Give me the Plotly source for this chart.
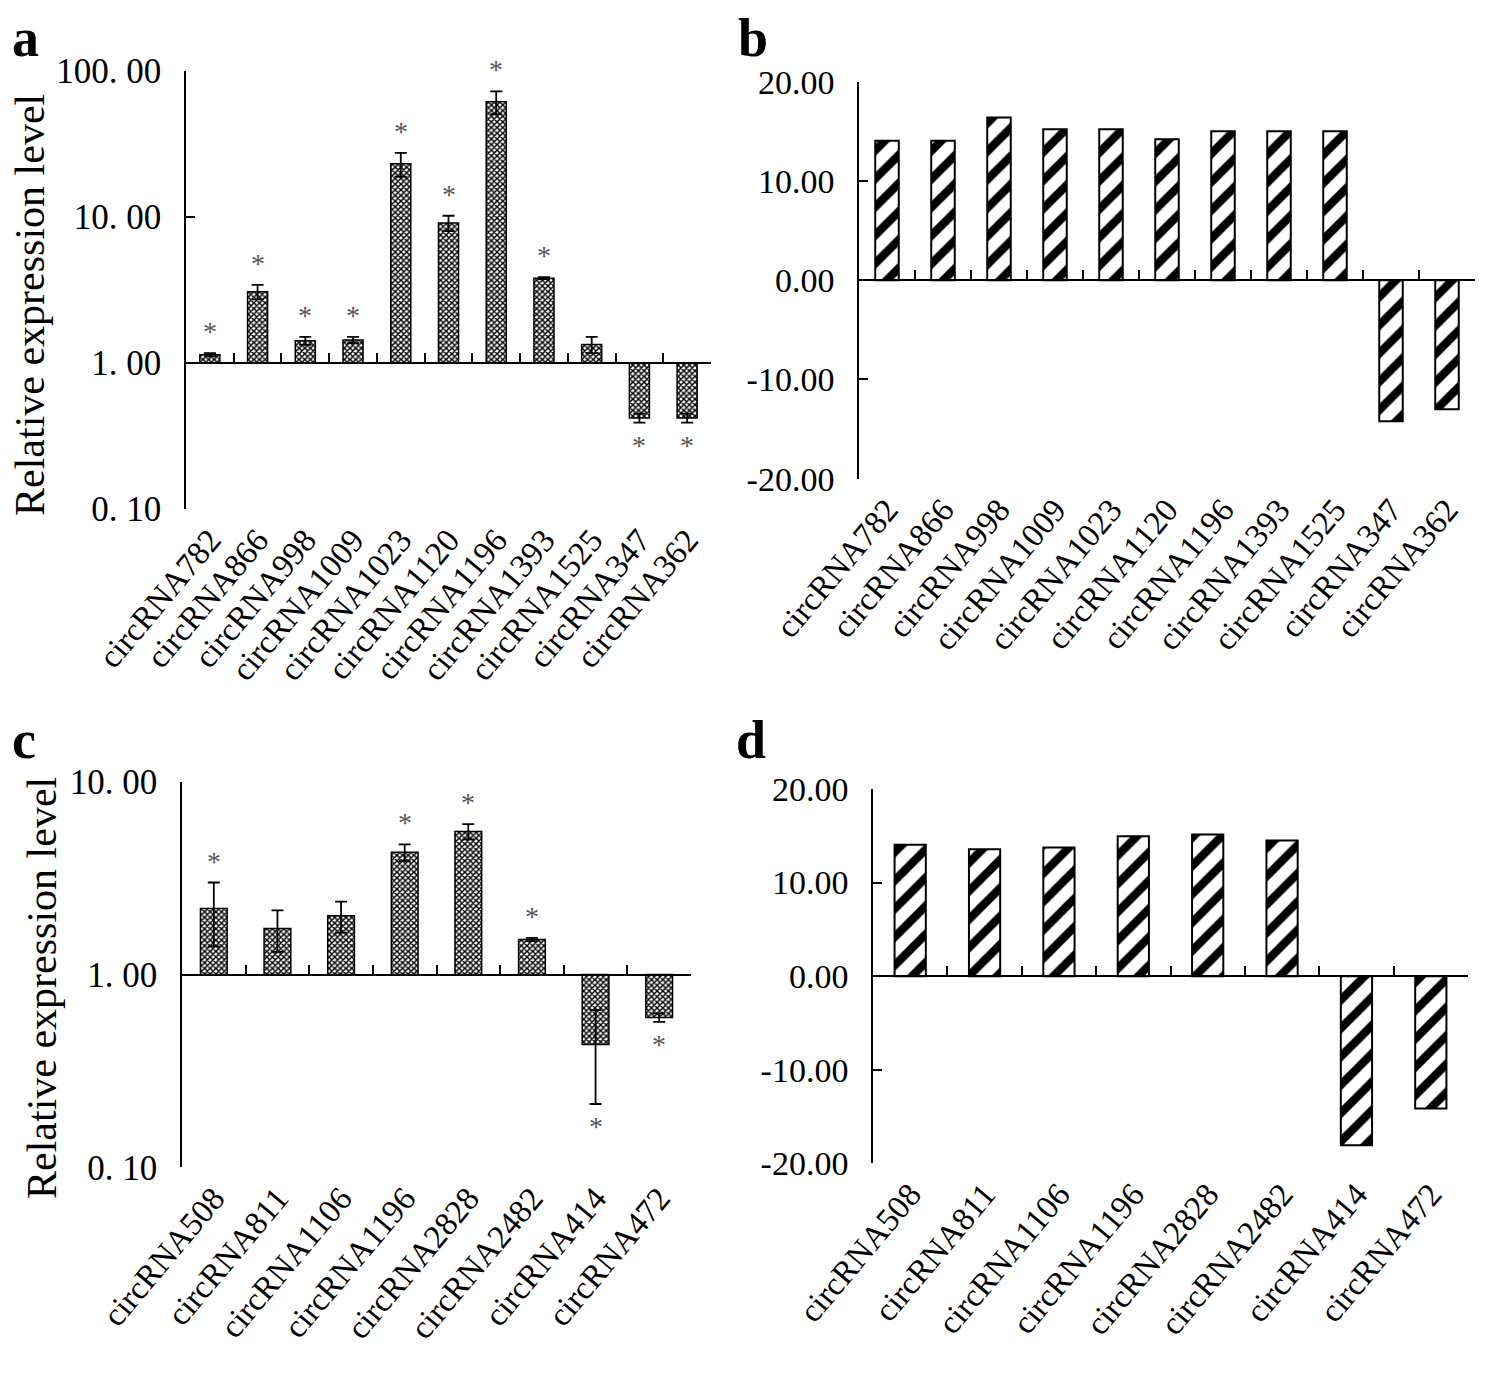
import numpy as np
import plotly.graph_objects as go

# ---------------- data ----------------
cats_a = ["circRNA782", "circRNA866", "circRNA998", "circRNA1009", "circRNA1023", "circRNA1120",
          "circRNA1196", "circRNA1393", "circRNA1525", "circRNA347", "circRNA362"]
vals_a = [1.14, 3.08, 1.42, 1.44, 23.2, 9.1, 61.6, 3.81, 1.34, 0.42, 0.42]
err_a = [0.03, 0.35, 0.09, 0.07, 4.3, 1.1, 11.0, 0.06, 0.17, 0.03, 0.03]
star_a = [True, True, True, True, True, True, True, True, False, True, True]

cats_b = cats_a
vals_b = [14.06, 14.06, 16.4, 15.2, 15.2, 14.2, 15.0, 15.0, 15.0, -14.2, -13.0]

cats_c = ["circRNA508", "circRNA811", "circRNA1106", "circRNA1196", "circRNA2828", "circRNA2482",
          "circRNA414", "circRNA472"]
vals_c = [2.2, 1.73, 2.02, 4.3, 5.52, 1.52, 0.433, 0.598]
err_c = [0.8, 0.42, 0.37, 0.43, 0.5, 0.03, 0.22, 0.03]
star_c = [True, False, False, True, True, True, True, True]

cats_d = cats_c
vals_d = [14.05, 13.55, 13.76, 14.94, 15.15, 14.5, -18.07, -14.15]

log_ticks = [0.1, 1, 10, 100]
log_ticktext = ["0. 10", "1. 00", "10. 00", "100. 00"]
lin_ticks = [-20, -10, 0, 10, 20]
lin_ticktext = ["-20.00", "-10.00", "0.00", "10.00", "20.00"]

# ---------------- layout geometry (pixels of the 1498x1391 canvas) ----------------
W, H = 1498, 1391
OFF = 8  # page body margin
def fx(px):
    return (px - OFF) / W
def fy(py):
    return 1 - (py - OFF) / H

panels = {
    "a": dict(x=(186, 711), y=(71, 509)),
    "b": dict(x=(859, 1475), y=(81.7, 478.7)),
    "c": dict(x=(182, 691), y=(781.7, 1167.3)),
    "d": dict(x=(873, 1468), y=(789, 1163.3)),
}

SERIF = "Liberation Serif"
fig = go.Figure()

dot_pattern = dict(shape="x", size=4, solidity=0.6, fgcolor="#000000", bgcolor="#ffffff", fgopacity=1)
hatch_pattern = dict(shape="/", size=20, solidity=0.42, fgcolor="#000000", bgcolor="#ffffff", fgopacity=1)

def add_panel(idx, key, cats, vals, err, log, pattern, line_w):
    xa = "x" if idx == 1 else f"x{idx}"
    ya = "y" if idx == 1 else f"y{idx}"
    base = 1 if log else 0
    n = len(cats)
    fig.add_trace(go.Bar(
        x=cats, y=[v - base for v in vals], base=[base] * n,
        width=0.42,
        marker=dict(color="#ffffff", pattern=pattern, line=dict(color="#000000", width=line_w)),
        error_y=dict(type="data", array=err, visible=err is not None, color="#000000", thickness=1.8, width=6),
        xaxis=xa, yaxis=ya, showlegend=False, hoverinfo="skip",
    ))
    # invisible trace for baseline overlay axis
    ov = 4 + idx
    fig.add_trace(go.Scatter(x=[0], y=[base if log else 0], mode="markers", marker=dict(opacity=0),
                             xaxis=f"x{ov}", yaxis=ya, showlegend=False, hoverinfo="skip"))
    p = panels[key]
    xd = [fx(p["x"][0]), fx(p["x"][1])]
    yd = [fy(p["y"][1]), fy(p["y"][0])]
    if log:
        rng = [np.log10(log_ticks[0]), np.log10(log_ticks[-1]) if key == "a" else 1]
        frac = (np.log10(base) - rng[0]) / (rng[1] - rng[0])
        yaxis = dict(type="log", range=rng, tickvals=log_ticks, ticktext=log_ticktext,
                     tickfont=dict(family=SERIF, size=35, color="#000"))
    else:
        rng = [lin_ticks[0], lin_ticks[-1]]
        frac = (0 - rng[0]) / (rng[1] - rng[0])
        yaxis = dict(type="linear", range=rng, tickvals=lin_ticks, ticktext=lin_ticktext,
                     tickfont=dict(family=SERIF, size=34, color="#000"))
    yaxis.update(domain=yd, anchor=xa, showline=True, linecolor="#000", linewidth=1.5,
                 ticks="inside", ticklen=9, tickwidth=1.5, tickcolor="#000",
                 showgrid=False, zeroline=False, ticklabelstandoff=16, automargin=False)
    xaxis = dict(domain=xd, anchor=ya, type="category", range=[-0.5, n - 0.5],
                 showline=False, ticks="", showgrid=False, zeroline=False,
                 tickangle=-50, tickfont=dict(family=SERIF, size=33, color="#000"),
                 ticklabelstandoff=4, automargin=False)
    ovaxis = dict(domain=xd, overlaying=xa, anchor="free", position=yd[0] + frac * (yd[1] - yd[0]),
                  type="linear", range=[-0.5, n - 0.5],
                  tickvals=[i + 0.5 for i in range(n)], showticklabels=False,
                  ticks="inside", ticklen=9, tickwidth=1.5, tickcolor="#000",
                  showline=True, linecolor="#000", linewidth=1.5, showgrid=False, zeroline=False,
                  automargin=False)
    fig.update_layout(**{
        ("xaxis" if idx == 1 else f"xaxis{idx}"): xaxis,
        ("yaxis" if idx == 1 else f"yaxis{idx}"): yaxis,
        f"xaxis{ov}": ovaxis,
    })
    return xa, ya

add_panel(1, "a", cats_a, vals_a, err_a, True, dot_pattern, 1.5)
add_panel(2, "b", cats_b, vals_b, None, False, hatch_pattern, 2)
add_panel(3, "c", cats_c, vals_c, err_c, True, dot_pattern, 1.5)
add_panel(4, "d", cats_d, vals_d, None, False, hatch_pattern, 2)

annotations = []
def stars(xa, ya, cats, vals, err, flags):
    for c, v, e, s in zip(cats, vals, err, flags):
        if not s:
            continue
        if v >= 1:
            annotations.append(dict(x=c, y=np.log10(v + e), xref=xa, yref=ya, text="*", showarrow=False,
                                    yanchor="bottom", yshift=4,
                                    font=dict(family=SERIF, size=28, color="#555")))
        else:
            annotations.append(dict(x=c, y=np.log10(v - e), xref=xa, yref=ya, text="*", showarrow=False,
                                    yanchor="top", yshift=-5,
                                    font=dict(family=SERIF, size=28, color="#555")))

stars("x", "y", cats_a, vals_a, err_a, star_a)
stars("x3", "y3", cats_c, vals_c, err_c, star_c)

# panel letters (left edge in pixels, vertical centre in pixels)
for letter, (px, py) in {"a": (10, 38), "b": (736, 38), "c": (10, 740), "d": (734, 740)}.items():
    annotations.append(dict(x=fx(px), y=fy(py), xref="paper", yref="paper", text=f"<b>{letter}</b>",
                            showarrow=False, xanchor="left", yanchor="middle",
                            font=dict(family=SERIF, size=54, color="#000")))

# y titles
for (px, py) in [(30, 305), (42, 988)]:
    annotations.append(dict(x=fx(px), y=fy(py), xref="paper", yref="paper", text="Relative expression level",
                            textangle=-90, showarrow=False, xanchor="center", yanchor="middle",
                            font=dict(family=SERIF, size=42, color="#000")))

fig.update_layout(
    width=W, height=H, margin=dict(l=0, r=0, t=0, b=0, autoexpand=False),
    paper_bgcolor="#ffffff", plot_bgcolor="#ffffff",
    annotations=annotations, bargap=0.58,
)

fig.write_html("out.html")
